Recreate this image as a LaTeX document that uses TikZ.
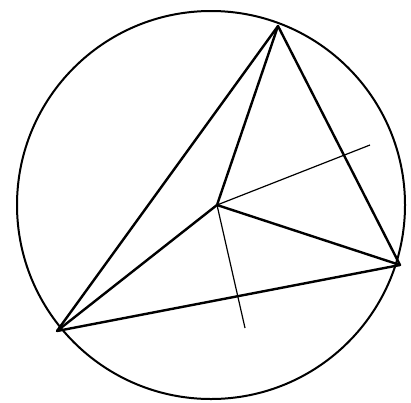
\documentclass[tikz,border=0pt]{standalone}
\begin{document}
\begin{tikzpicture}[x=1pt, y=-1pt, side/.style={line width=2.4pt, line join=round}, aux/.style={line width=1.2pt}]
		\useasboundingbox (0,0) rectangle (411,402);
		\draw[line width=2pt] (211,205) circle[radius=194];
		\coordinate (A) at (278,26);
		\coordinate (B) at (57,331);
		\coordinate (C) at (400,265);
		\coordinate (P) at (217,205);
		\coordinate (E1) at (370,145);
		\coordinate (E2) at (245,328);
		\begin{scope}
			\draw[side] (A) -- (B) -- (C) -- cycle;
			\draw[side] (P) -- (A);
			\draw[side] (P) -- (B);
			\draw[side] (P) -- (C);
			\draw[aux] (P) -- (E1);
			\draw[aux] (P) -- (E2);
		\end{scope}
	\end{tikzpicture}
\end{document}
